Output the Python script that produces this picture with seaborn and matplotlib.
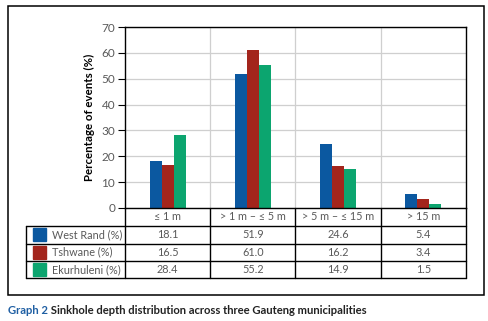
import matplotlib
matplotlib.use("Agg")
import matplotlib.pyplot as plt
import matplotlib.transforms as mtrans
from matplotlib.patches import Rectangle
from matplotlib.lines import Line2D
import seaborn as sns
import pandas as pd

categories = ["\u2264 1 m", "> 1 m \u2013 \u2264 5 m", "> 5 m \u2013 \u2264 15 m", "> 15 m"]
series_names = ["West Rand (%)", "Tshwane (%)", "Ekurhuleni (%)"]
west_rand = [18.1, 51.9, 24.6, 5.4]
tshwane = [16.5, 61.0, 16.2, 3.4]
ekurhuleni = [28.4, 55.2, 14.9, 1.5]
colors = ["#0b58a0", "#a3251c", "#0ca56f"]
yticks = [0, 10, 20, 30, 40, 50, 60, 70]
caption_head = "Graph 2"
caption_body = " Sinkhole depth distribution across three Gauteng municipalities"

values = [west_rand, tshwane, ekurhuleni]
rows = []
for name, vals in zip(series_names, values):
    for c, v in zip(categories, vals):
        rows.append({"cat": c, "series": name, "val": v})
df = pd.DataFrame(rows)

sns.set_theme(style="white")
plt.rcParams["font.family"] = ["Lato", "DejaVu Sans"]

W, H = 489, 321
fig = plt.figure(figsize=(W / 100, H / 100), dpi=100)
fx = lambda x: x / W
fy = lambda y: 1 - y / H

ax_l, ax_r, ax_t, ax_b = 125, 466, 27, 208
ax = fig.add_axes([fx(ax_l), fy(ax_b), fx(ax_r) - fx(ax_l), fy(ax_t) - fy(ax_b)])

sns.barplot(data=df, x="cat", y="val", hue="series", order=categories,
            hue_order=series_names, palette=colors, width=0.42, gap=0,
            saturation=1, legend=False, ax=ax, edgecolor="none")

ax.set_xlim(-0.5, len(categories) - 0.5)
ax.set_ylim(0, 70)
ax.set_yticks(yticks)
ax.set_yticklabels([str(t) for t in yticks], color="#5a5a5a", fontsize=8.5)
ax.set_xticks([])
ax.set_xticks([i + 0.5 for i in range(len(categories) - 1)], minor=True)
ax.tick_params(axis="x", which="minor", length=0)
ax.tick_params(axis="y", direction="out", length=5, width=0.8, color="black", pad=2, left=True)
ax.grid(axis="y", color="#cfcfcf", lw=0.9)
ax.grid(axis="x", which="minor", color="#cfcfcf", lw=0.9)
ax.set_axisbelow(True)
for s in ax.spines.values():
    s.set_color("black")
    s.set_linewidth(1.0)
ax.set_xlabel("")
ax.set_ylabel("Percentage of events (%)", fontsize=8.3, fontweight="bold", color="black", labelpad=5)

# table
bt = mtrans.blended_transform_factory(ax.transData, fig.transFigure)
row_y = [208, 226, 243.5, 261, 278]
tl = 26
for y in row_y[1:]:
    fig.add_artist(Line2D([fx(tl), fx(ax_r)], [fy(y), fy(y)], color="black", lw=1.0))
fig.add_artist(Line2D([fx(tl), fx(tl)], [fy(row_y[1]), fy(row_y[-1])], color="black", lw=1.0))
fig.add_artist(Line2D([fx(ax_l), fx(ax_l)], [fy(row_y[0]), fy(row_y[-1])], color="black", lw=1.0))
fig.add_artist(Line2D([fx(ax_r), fx(ax_r)], [fy(row_y[0]), fy(row_y[-1])], color="black", lw=1.0))
for i in range(len(categories) - 1):
    ax.add_artist(Line2D([i + 0.5, i + 0.5], [fy(row_y[0]), fy(row_y[-1])], color="black", lw=1.0,
                         transform=bt, clip_on=False))

tc = "#5a5a5a"
fs = 7.8
for i, c in enumerate(categories):
    ax.text(i, fy((row_y[0] + row_y[1]) / 2), c, transform=bt, ha="center", va="center",
            fontsize=fs, color=tc, clip_on=False)
for r, (name, vals, col) in enumerate(zip(series_names, values, colors)):
    yc = fy((row_y[r + 1] + row_y[r + 2]) / 2)
    fig.add_artist(Rectangle((fx(33), yc - 6.5 / H), 13 / W, 13 / H, color=col, transform=fig.transFigure))
    fig.text(fx(52), yc, name, ha="left", va="center", fontsize=fs, color=tc)
    for i, v in enumerate(vals):
        ax.text(i, yc, f"{v:.1f}", transform=bt, ha="center", va="center",
                fontsize=fs, color=tc, clip_on=False)

# outer frame
fig.add_artist(Rectangle((fx(8), fy(295)), 476 / W, 289 / H, fill=False, ec="black", lw=1.1,
                         transform=fig.transFigure))

# caption
t1 = fig.text(fx(8), fy(310), caption_head, ha="left", va="center", fontsize=8.1,
              fontweight="bold", color="#1f5fa3")
fig.canvas.draw()
bb = t1.get_window_extent()
fig.text(bb.x1 / W, fy(310), caption_body, ha="left", va="center", fontsize=8.1,
         fontweight="bold", color="#222222")

fig.savefig("out.png", dpi=100)
